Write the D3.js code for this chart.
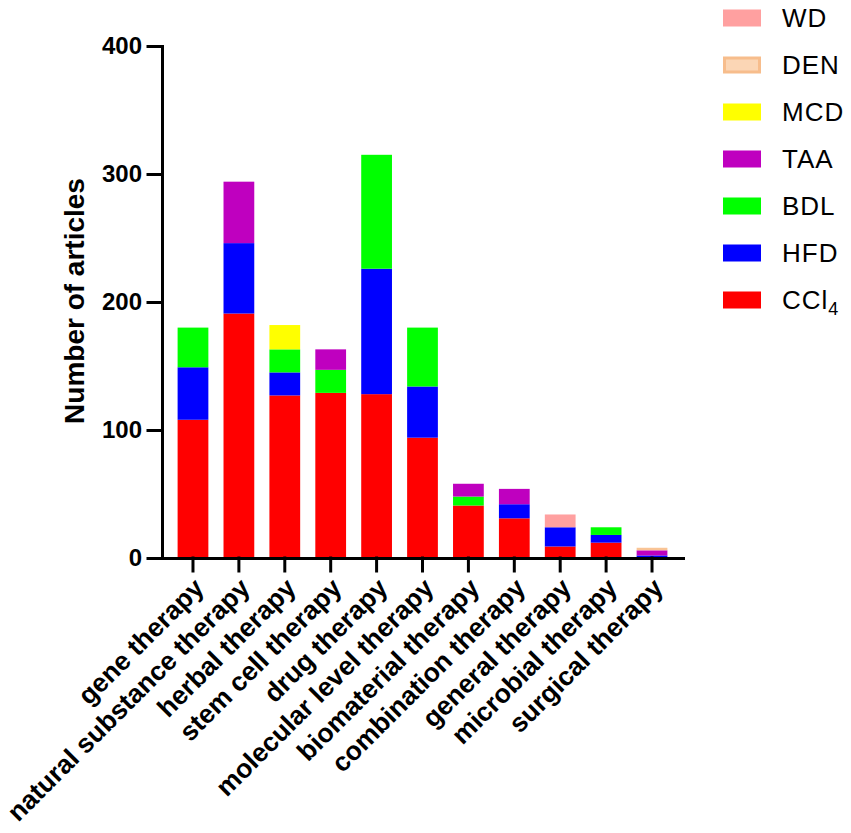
<!DOCTYPE html>
<html>
<head>
<meta charset="utf-8">
<script src="https://cdn.jsdelivr.net/npm/d3@7"></script>
<style>
  html, body { margin: 0; padding: 0; background: #fff; }
  svg { display: block; font-family: "Liberation Sans", Arial, Helvetica, sans-serif; }
</style>
</head>
<body>
<svg id="chart"></svg>
<script>
// categories along the x axis
const categories = [
  'gene therapy', 'natural substance therapy', 'herbal therapy', 'stem cell therapy',
  'drug therapy', 'molecular level therapy', 'biomaterial therapy', 'combination therapy',
  'general therapy', 'microbial therapy', 'surgical therapy'
];

// series, stacked bottom -> top
const seriesKeys = ['CCl4', 'HFD', 'BDL', 'TAA', 'MCD', 'WD', 'DEN'];
const seriesColors = ['#ff0000', '#0000ff', '#00ff00', '#bf00bf', '#ffff00', '#ffa0a0', '#f9c495'];

const ccl4 = [108, 191, 127, 129, 128, 94, 41, 31, 9, 12, 0];
const hfd  = [41, 55, 18, 0, 98, 40, 0, 11, 15, 6, 2];
const bdl  = [31, 0, 18, 18, 89, 46, 7, 0, 0, 6, 0];
const taa  = [0, 48, 0, 16, 0, 0, 10, 12, 0, 0, 4];
const mcd  = [0, 0, 19, 0, 0, 0, 0, 0, 0, 0, 0];
const wd   = [0, 0, 0, 0, 0, 0, 0, 0, 10, 0, 0];
const den  = [0, 0, 0, 0, 0, 0, 0, 0, 0, 0, 2];

const yTicks = [0, 100, 200, 300, 400];

// legend order top -> bottom
const legendKeys = ['WD', 'DEN', 'MCD', 'TAA', 'BDL', 'HFD', 'CCl4'];

const width = 851;
const height = 833;

const svg = d3.select('#chart')
  .attr('width', width)
  .attr('height', height);

// build rows for d3.stack
const valuesByKey = { CCl4: ccl4, HFD: hfd, BDL: bdl, TAA: taa, MCD: mcd, WD: wd, DEN: den };
const rows = categories.map((c, i) => {
  const r = { category: c };
  seriesKeys.forEach(k => { r[k] = valuesByKey[k][i]; });
  return r;
});
const stacked = d3.stack().keys(seriesKeys)(rows);
const color = d3.scaleOrdinal().domain(seriesKeys).range(seriesColors);

const xScale = d3.scaleBand()
  .domain(categories)
  .range([162, 683])
  .paddingInner(0.33)
  .paddingOuter(0.34);

const yScale = d3.scaleLinear()
  .domain([0, 400])
  .range([558, 46]);

// bars
svg.append('g')
  .selectAll('g')
  .data(stacked)
  .enter()
  .append('g')
  .attr('fill', d => color(d.key))
  .selectAll('rect')
  .data(d => d)
  .enter()
  .append('rect')
  .attr('x', d => xScale(d.data.category))
  .attr('width', xScale.bandwidth())
  .attr('y', d => yScale(d[1]))
  .attr('height', d => yScale(d[0]) - yScale(d[1]));

// y axis
const yAxis = svg.append('g')
  .attr('transform', 'translate(162,0)')
  .call(d3.axisLeft(yScale).tickValues(yTicks).tickSizeInner(14).tickSizeOuter(0).tickPadding(6));
yAxis.selectAll('text')
  .attr('font-size', '24px')
  .attr('font-weight', 'bold')
  .attr('fill', '#000')
  .attr('font-family', '"Liberation Sans", Arial, sans-serif');

// x axis
const xAxis = svg.append('g')
  .attr('transform', 'translate(0,558)')
  .call(d3.axisBottom(xScale).tickSizeInner(13).tickSizeOuter(0));
xAxis.selectAll('text')
  .attr('x', 0)
  .attr('y', 0)
  .attr('dy', '0.35em')
  .attr('transform', 'translate(6,25) rotate(-45)')
  .style('text-anchor', 'end')
  .attr('font-size', '26.5px')
  .attr('font-weight', 'bold')
  .attr('fill', '#000')
  .attr('font-family', '"Liberation Sans", Arial, sans-serif');

svg.selectAll('.domain, .tick line')
  .attr('stroke', '#000')
  .attr('stroke-width', 3)
  .attr('stroke-linecap', 'square');

// y axis title
svg.append('text')
  .attr('transform', 'translate(84,301) rotate(-90)')
  .attr('text-anchor', 'middle')
  .attr('font-size', '28px')
  .attr('font-weight', 'bold')
  .text('Number of articles');

// legend
const legend = svg.append('g')
  .attr('transform', 'translate(723,18)');

const item = legend.selectAll('g')
  .data(legendKeys)
  .enter()
  .append('g')
  .attr('transform', (d, i) => `translate(0,${i * 47})`);

item.append('rect')
  .attr('x', d => d === 'DEN' ? 1.5 : 0)
  .attr('y', d => d === 'DEN' ? -7 : -8.5)
  .attr('width', d => d === 'DEN' ? 35 : 38)
  .attr('height', d => d === 'DEN' ? 14 : 17)
  .attr('fill', d => d === 'DEN' ? '#fbd6b5' : color(d))
  .attr('stroke', d => d === 'DEN' ? '#f7bd8c' : 'none')
  .attr('stroke-width', 3);

const label = item.append('text')
  .attr('x', 59)
  .attr('y', 0)
  .attr('dy', '0.35em')
  .attr('font-size', '26px')
  .attr('letter-spacing', '1px')
  .attr('fill', '#000');

label.each(function(d) {
  const t = d3.select(this);
  if (d === 'CCl4') {
    t.append('tspan').text('CCl');
    t.append('tspan').attr('font-size', '18px').attr('dy', '0.3em').text('4');
  } else {
    t.text(d);
  }
});
</script>
</body>
</html>
